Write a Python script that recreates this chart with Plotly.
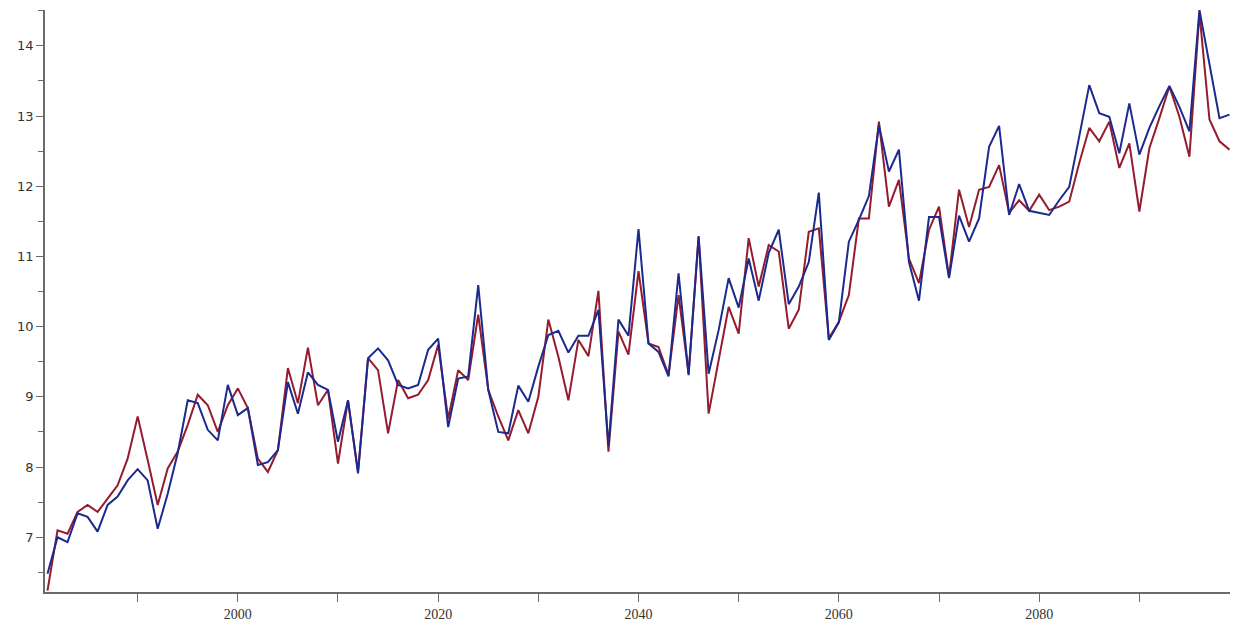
import plotly.graph_objects as go

years = list(range(1981, 2100))

red_series = [
    6.24, 7.10, 7.05, 7.36, 7.46, 7.36, 7.55, 7.74, 8.12, 8.72,   # 1981-1990
    8.10, 7.46, 7.98, 8.22, 8.60, 9.03, 8.88, 8.50, 8.88, 9.12,   # 1991-2000
    8.84, 8.12, 7.93, 8.24, 9.41, 8.91, 9.70, 8.88, 9.10, 8.05,   # 2001-2010
    8.95, 7.93, 9.55, 9.38, 8.48, 9.24, 8.98, 9.03, 9.24, 9.74,   # 2011-2020
    8.69, 9.38, 9.24, 10.17, 9.10, 8.72, 8.38, 8.81, 8.48, 9.00,  # 2021-2030
    10.10, 9.57, 8.95, 9.81, 9.58, 10.51, 8.22, 9.93, 9.60, 10.79,  # 2031-2040
    9.76, 9.71, 9.31, 10.45, 9.33, 11.28, 8.76, 9.52, 10.28, 9.90,  # 2041-2050
    11.26, 10.57, 11.16, 11.07, 9.97, 10.24, 11.35, 11.40, 9.83, 10.07,  # 2051-2060
    10.45, 11.54, 11.54, 12.92, 11.71, 12.09, 10.97, 10.62, 11.38, 11.71,  # 2061-2070
    10.71, 11.95, 11.42, 11.95, 11.99, 12.30, 11.62, 11.80, 11.65, 11.88,  # 2071-2080
    11.66, 11.71, 11.78, 12.33, 12.83, 12.64, 12.92, 12.26, 12.61, 11.64,  # 2081-2090
    12.54, 12.97, 13.42, 12.99, 12.42, 14.47, 12.95, 12.64, 12.52,        # 2091-2099
]

blue_series = [
    6.48, 7.00, 6.93, 7.34, 7.29, 7.08, 7.46, 7.58, 7.81, 7.97,   # 1981-1990
    7.81, 7.12, 7.62, 8.20, 8.95, 8.91, 8.53, 8.38, 9.17, 8.74,   # 1991-2000
    8.84, 8.03, 8.07, 8.24, 9.21, 8.76, 9.35, 9.17, 9.10, 8.36,   # 2001-2010
    8.95, 7.91, 9.55, 9.69, 9.52, 9.17, 9.12, 9.17, 9.67, 9.83,   # 2011-2020
    8.57, 9.26, 9.29, 10.59, 9.10, 8.50, 8.48, 9.16, 8.93, 9.43,  # 2021-2030
    9.88, 9.94, 9.63, 9.87, 9.87, 10.24, 8.30, 10.10, 9.87, 11.39,  # 2031-2040
    9.76, 9.64, 9.29, 10.76, 9.31, 11.29, 9.33, 9.95, 10.69, 10.27,  # 2041-2050
    10.97, 10.37, 11.05, 11.38, 10.32, 10.57, 10.92, 11.91, 9.81, 10.06,  # 2051-2060
    11.21, 11.52, 11.86, 12.87, 12.21, 12.52, 10.92, 10.37, 11.56, 11.56,  # 2061-2070
    10.69, 11.58, 11.21, 11.54, 12.56, 12.86, 11.59, 12.03, 11.65, 11.62,  # 2071-2080
    11.59, 11.80, 11.99, 12.71, 13.44, 13.04, 12.99, 12.47, 13.18, 12.45,  # 2081-2090
    12.83, 13.14, 13.43, 13.13, 12.78, 14.51, 13.72, 12.97, 13.02,        # 2091-2099
]

RED = "#951b2f"
BLUE = "#1c2a8e"

fig = go.Figure()
fig.add_trace(go.Scatter(x=years, y=red_series, mode="lines",
                         line=dict(color=RED, width=2), showlegend=False))
fig.add_trace(go.Scatter(x=years, y=blue_series, mode="lines",
                         line=dict(color=BLUE, width=2), showlegend=False))

axis_color = "#6b6b6b"
# The page body has an 8px default margin, so the figure is sized to fit
# inside the 1240x623 window with that offset.
fig.update_layout(
    width=1232, height=615,
    margin=dict(l=37, r=10, t=2, b=31, autoexpand=False),
    paper_bgcolor="white", plot_bgcolor="white",
    xaxis=dict(
        range=[1980.75, 2099.05], automargin=False,
        showgrid=False, zeroline=False,
        showline=True, linecolor=axis_color, linewidth=1.5,
        ticks="outside", ticklen=8, tickcolor=axis_color, tickwidth=1,
        tick0=2000, dtick=20,
        minor=dict(dtick=10, tick0=2000, ticks="outside", ticklen=8,
                   tickcolor=axis_color, showgrid=False),
        tickfont=dict(family="Liberation Serif", size=14, color="#333333"),
    ),
    yaxis=dict(
        range=[6.22, 14.51], automargin=False,
        showgrid=False, zeroline=False,
        showline=True, linecolor=axis_color, linewidth=1.5,
        ticks="outside", ticklen=7, tickcolor=axis_color, tickwidth=1,
        tick0=7, dtick=1,
        minor=dict(dtick=0.5, tick0=7, ticks="outside", ticklen=5,
                   tickcolor=axis_color, showgrid=False),
        tickfont=dict(family="DejaVu Sans", size=13, color="#333333"),
    ),
)

fig.write_html("out.html")
